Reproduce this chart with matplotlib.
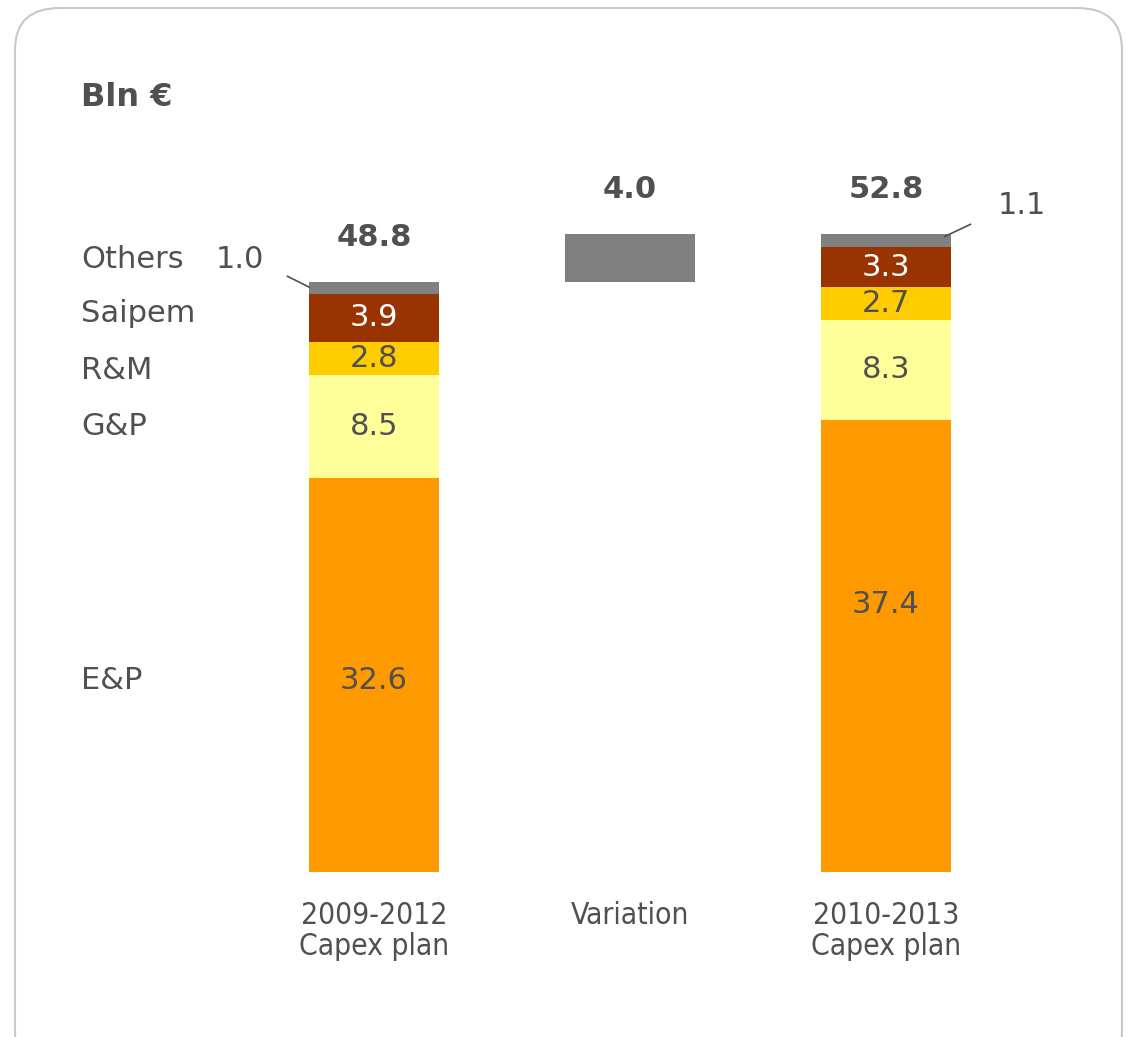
import matplotlib.pyplot as plt
import matplotlib.transforms as mtrans
from matplotlib.patches import FancyBboxPatch
import numpy as np

# data (Bln €)
segments = ['E&P', 'G&P', 'R&M', 'Saipem', 'Others']
plan_2009 = [32.6, 8.5, 2.8, 3.9, 1.0]
plan_2010 = [37.4, 8.3, 2.7, 3.3, 1.1]
variation = 4.0
totals = [48.8, 4.0, 52.8]
categories = ['2009-2012\nCapex plan', 'Variation', '2010-2013\nCapex plan']

colors = ['#FF9900', '#FFFF99', '#FFCC00', '#993300', '#808080']
txt_col = ['#505050', '#505050', '#505050', 'white', None]
grey_txt = '#505050'

fig = plt.figure(figsize=(11.28, 10.37), dpi=100)

# rounded frame
frame = FancyBboxPatch((15 / 1128, -0.035), 1107 / 1128, 1.035 - 8 / 1037,
                       boxstyle='round,pad=0,rounding_size=0.04',
                       transform=fig.transFigure, fc='none', ec='#c8c8c8', lw=1.5)
fig.patches.append(frame)

ax = fig.add_axes([246 / 1128, 1 - 872 / 1037, 768 / 1128, 725 / 1037])
ax.set_xlim(-0.5, 2.5)
ax.set_ylim(0, 60)
ax.axis('off')

w = 0.504
x = np.arange(3)

# stacked bars
for xi, vals in [(0, plan_2009), (2, plan_2010)]:
    bottom = 0
    for i, v in enumerate(vals):
        ax.bar(xi, v, w, bottom=bottom, color=colors[i], lw=0)
        if i < 4:
            ypos = bottom + v / 2
            if i == 0:
                ypos = 22.1 if xi == 2 else ypos - 0.45
            ax.text(xi, ypos, f'{v:.1f}', ha='center', va='center',
                    fontsize=22, color=txt_col[i])
        bottom += v

# variation bar
ax.bar(1, variation, w, bottom=totals[0], color='#808080', lw=0)

# totals on top
tops = [totals[0], totals[0] + variation, totals[2]]
for xi, t, top in zip(x, totals, tops):
    ax.text(xi, top + 3.7, f'{t:.1f}', ha='center', va='center',
            fontsize=22, fontweight='bold', color=grey_txt)

# category labels
for xi, c in zip(x, categories):
    ax.text(xi, -2.4, c, ha='center', va='top', fontsize=21.5, color=grey_txt,
            fontstretch='condensed', linespacing=1.1)

# segment names on the left
lab_x = 81 / 1128
cum = np.cumsum([0] + plan_2009)
lab_y = [(cum[i] + cum[i + 1]) / 2 for i in range(4)] + [totals[0] + 1.9]
lab_y[0] -= 0.45
lab_y[2] -= 1.0
lab_y[3] += 0.35
tr = mtrans.blended_transform_factory(fig.transFigure, ax.transData)
for name, yy in zip(segments, lab_y):
    ax.text(lab_x, yy, name, transform=tr, ha='left', va='center',
            fontsize=22, color=grey_txt)

# others values with leader lines
ax.text(240 / 1128, totals[0] + 1.9, f'{plan_2009[4]:.1f}', transform=tr,
        ha='center', va='center', fontsize=22, color=grey_txt)
ax.plot([-0.338, -0.253], [totals[0] + 0.5, totals[0] - 0.4], color=grey_txt, lw=1.2)
ax.text(2.53, totals[2] + 2.4, f'{plan_2010[4]:.1f}', ha='center', va='center',
        fontsize=22, color=grey_txt)
ax.plot([2.23, 2.33], [totals[2] - 0.2, totals[2] + 0.8], color=grey_txt, lw=1.2)

fig.text(81 / 1128, 1 - 98 / 1037, 'Bln €', ha='left', va='center',
         fontsize=23, fontweight='bold', color=grey_txt)

fig.savefig('out.png', dpi=100)
